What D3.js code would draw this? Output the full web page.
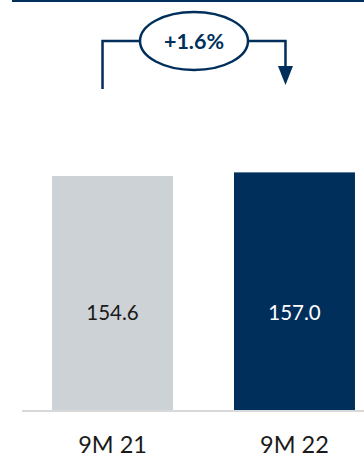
<!DOCTYPE html>
<html>
<head>
<meta charset="utf-8">
<script src="https://cdn.jsdelivr.net/npm/d3@7"></script>
<style>
  html, body { margin: 0; padding: 0; background: #fff; }
  svg { display: block; }
</style>
</head>
<body>
<svg id="chart" width="364" height="459"></svg>
<script>
// Period categories and their values
const categories = ["9M 21", "9M 22"];
const values = [154.6, 157.0];
const valueLabels = ["154.6", "157.0"];
const changeLabel = "+1.6%";

const W = 364, H = 459;
const navy = "#002f5b";
const grey = "#cdd2d6";
const font = "Lato, 'Open Sans', sans-serif";

const svg = d3.select("#chart");

const x = d3.scaleBand()
  .domain(categories)
  .range([22, 385])
  .paddingInner(0.335)
  .paddingOuter(0.165);

const y = d3.scaleLinear()
  .domain([0, 270.9])
  .range([410, 0]);

// Header rule
svg.append("line")
  .attr("x1", 12).attr("x2", W)
  .attr("y1", 1).attr("y2", 1)
  .attr("stroke", navy).attr("stroke-width", 2);

// Bars
svg.selectAll("rect.bar")
  .data(values)
  .join("rect")
  .attr("class", "bar")
  .attr("x", (d, i) => x(categories[i]))
  .attr("width", x.bandwidth())
  .attr("y", d => y(d))
  .attr("height", d => y(0) - y(d))
  .attr("fill", (d, i) => i === 0 ? grey : navy);

// Baseline
svg.append("line")
  .attr("x1", 22).attr("x2", W)
  .attr("y1", y(0) + 1).attr("y2", y(0) + 1)
  .attr("stroke", "#d9d9d9").attr("stroke-width", 2);

// Value labels inside bars
svg.selectAll("text.val")
  .data(values)
  .join("text")
  .attr("class", "val")
  .attr("x", (d, i) => x(categories[i]) + x.bandwidth() / 2)
  .attr("y", 320)
  .attr("text-anchor", "middle")
  .attr("font-family", font)
  .attr("font-size", 20.5)
  .attr("fill", (d, i) => i === 0 ? "#1a1a1a" : "#ffffff")
  .text((d, i) => valueLabels[i]);

// Category labels
const xAxis = d3.axisBottom(x).tickSize(0).tickPadding(0);
const gx = svg.append("g")
  .attr("transform", `translate(0, ${y(0)})`)
  .call(xAxis);
gx.select(".domain").remove();
gx.selectAll("text")
  .attr("y", 43)
  .attr("dy", 0)
  .attr("font-family", font)
  .attr("font-size", 23.5)
  .attr("fill", "#1a1a1a");

// Change annotation: bracket with ellipse and arrow
const xa = x(categories[0]) + x.bandwidth() / 2 - 10;
const xb = x(categories[1]) + x.bandwidth() / 2 - 9;
const lineY = 41;
const cx = (xa + xb) / 2;
const rx = 54, ry = 29;

const g = svg.append("g")
  .attr("fill", "none")
  .attr("stroke", navy)
  .attr("stroke-width", 2.5);

g.append("path")
  .attr("d", `M${xa},89 V${lineY} H${cx - rx}`);
g.append("path")
  .attr("d", `M${cx + rx},${lineY} H${xb} V68`);
g.append("ellipse")
  .attr("cx", cx).attr("cy", lineY)
  .attr("rx", rx).attr("ry", ry);

svg.append("path")
  .attr("d", `M${xb - 7.5},66 L${xb + 7.5},66 L${xb},85 Z`)
  .attr("fill", navy);

svg.append("text")
  .attr("x", cx)
  .attr("y", lineY + 7.5)
  .attr("text-anchor", "middle")
  .attr("font-family", font)
  .attr("font-weight", "bold")
  .attr("font-size", 21.5)
  .attr("fill", navy)
  .text(changeLabel);
</script>
</body>
</html>
